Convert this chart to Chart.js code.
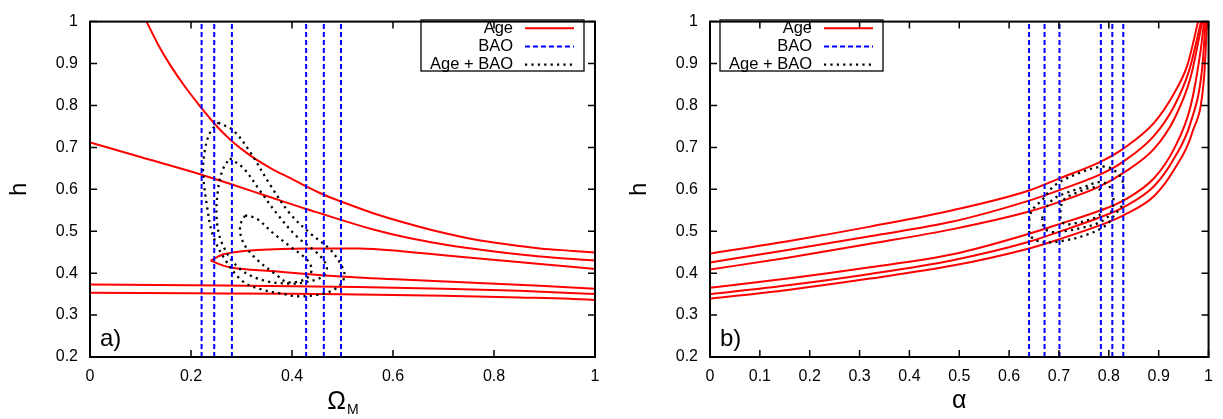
<!DOCTYPE html>
<html><head><meta charset="utf-8">
<script src="https://cdn.jsdelivr.net/npm/chart.js@4.4.1/dist/chart.umd.min.js"></script>
<style>
html,body{margin:0;padding:0;background:#fff;}
#wrap{position:relative;width:1223px;height:419px;overflow:hidden;background:#fff;}
canvas{position:absolute;top:0;}
#cL{left:0;} #cR{left:611px;}
</style></head><body>
<div id="wrap"><canvas id="cL" width="611" height="419"></canvas><canvas id="cR" width="612" height="419"></canvas></div>
<script>
// ---------- axis / tick settings ----------
const Y_MIN = 0.2, Y_MAX = 1.0;
const X_MIN = 0, X_MAX = 1;
const LEGEND_LABELS = ['Age', 'BAO', 'Age + BAO'];

// ---------- panel a) : Omega_M vs h ----------
// Age constraints (red)
const omA1 = [0.112,0.135,0.158,0.185,0.218,0.246,0.28,0.317,0.36,0.396,0.428,0.463,0.497,0.561,0.627,0.693,0.759,0.825,0.891,0.957,1.0];
const hA1  = [1.0,0.945,0.898,0.85,0.798,0.757,0.716,0.681,0.649,0.627,0.607,0.587,0.571,0.543,0.519,0.498,0.481,0.469,0.459,0.453,0.449];
const omA2 = [0,0.1,0.218,0.246,0.28,0.35,0.428,0.463,0.497,0.561,0.627,0.693,0.759,0.825,0.891,1.0];
const hA2  = [0.712,0.677,0.636,0.625,0.612,0.584,0.553,0.540,0.527,0.504,0.485,0.470,0.458,0.448,0.440,0.430];
const omB1 = [0.239,0.264,0.282,0.33,0.428,0.533,0.627,0.759,0.891,1.0];
const hB1  = [0.430,0.445,0.449,0.455,0.459,0.459,0.451,0.436,0.422,0.410];
const omB2 = [0.239,0.264,0.282,0.361,0.428,0.497,0.627,0.759,0.891,1.0];
const hB2  = [0.430,0.418,0.413,0.405,0.398,0.392,0.384,0.377,0.370,0.363];
const omC1 = [0,0.2,0.4,0.53,0.7,0.85,1.0];
const hC1  = [0.373,0.371,0.369,0.367,0.363,0.358,0.350];
const omC2 = [0,0.2,0.4,0.53,0.7,0.85,0.95,1.0];
const hC2  = [0.353,0.352,0.351,0.349,0.346,0.342,0.339,0.336];
// BAO constraints (blue vertical lines)
const baoL = [0.221,0.246,0.281,0.428,0.463,0.497];
// Age + BAO joint contours (black dotted)
const omD3 = [0.254,0.284,0.317,0.356,0.396,0.436,0.475,0.498,0.504,0.495,0.475,0.449,0.409,0.376,0.343,0.304,0.271,0.244,0.231,0.224,0.228,0.238,0.254];
const hD3  = [0.759,0.740,0.689,0.612,0.542,0.495,0.457,0.418,0.394,0.371,0.356,0.348,0.345,0.352,0.360,0.379,0.426,0.488,0.565,0.643,0.697,0.736,0.759];
const omD2 = [0.277,0.304,0.337,0.370,0.409,0.449,0.465,0.469,0.459,0.429,0.396,0.343,0.297,0.264,0.251,0.254,0.264,0.277];
const hD2  = [0.674,0.650,0.596,0.542,0.488,0.449,0.426,0.410,0.391,0.379,0.375,0.383,0.410,0.464,0.526,0.604,0.650,0.674];
const omD1 = [0.307,0.330,0.363,0.396,0.429,0.439,0.432,0.416,0.389,0.370,0.330,0.304,0.297,0.307];
const hD1  = [0.538,0.530,0.495,0.464,0.433,0.410,0.391,0.381,0.379,0.395,0.433,0.472,0.511,0.538];

// ---------- panel b) : alpha vs h ----------
const alR1 = [0,0.156,0.321,0.487,0.64,0.701,0.784,0.829,0.891,0.931,0.958,0.979];
const hR1  = [0.4465,0.476,0.511,0.550,0.597,0.626,0.666,0.697,0.759,0.829,0.898,1.0];
const alR2 = [0,0.156,0.321,0.487,0.64,0.701,0.784,0.829,0.891,0.931,0.961,0.985];
const hR2  = [0.4256,0.455,0.488,0.523,0.573,0.598,0.636,0.666,0.728,0.798,0.883,1.0];
const alR3 = [0,0.156,0.321,0.487,0.64,0.701,0.784,0.829,0.891,0.931,0.964,0.9875];
const hR3  = [0.4086,0.437,0.470,0.505,0.547,0.570,0.608,0.639,0.697,0.767,0.867,1.0];
const alR4 = [0,0.156,0.321,0.487,0.64,0.701,0.784,0.829,0.891,0.931,0.964,0.984,0.991];
const hR4  = [0.365,0.387,0.414,0.445,0.494,0.517,0.550,0.573,0.627,0.697,0.798,0.930,1.0];
const alR5 = [0,0.156,0.321,0.487,0.64,0.701,0.784,0.829,0.891,0.931,0.964,0.9874,0.994];
const hR5  = [0.3496,0.371,0.398,0.431,0.475,0.499,0.534,0.557,0.608,0.674,0.759,0.891,1.0];
const alR6 = [0,0.156,0.321,0.487,0.64,0.701,0.784,0.829,0.891,0.931,0.9675,0.991,0.997];
const hR6  = [0.339,0.360,0.387,0.418,0.459,0.481,0.515,0.538,0.584,0.647,0.736,0.867,1.0];
const baoR = [0.640,0.671,0.701,0.784,0.807,0.829];
const alE3 = [0.640,0.646,0.669,0.692,0.739,0.784,0.806,0.826,0.829,0.826,0.812,0.795,0.759,0.712,0.666,0.643,0.640];
const hE3  = [0.526,0.550,0.578,0.610,0.638,0.654,0.649,0.625,0.590,0.561,0.540,0.515,0.493,0.478,0.474,0.489,0.526];
const alE2 = [0.666,0.673,0.689,0.716,0.749,0.779,0.797,0.807,0.809,0.801,0.779,0.749,0.716,0.686,0.671,0.666];
const hE2  = [0.530,0.553,0.577,0.592,0.605,0.617,0.612,0.592,0.565,0.538,0.520,0.509,0.501,0.498,0.507,0.530];
const alE1 = [0.703,0.704,0.712,0.736,0.765,0.781,0.784,0.782,0.762,0.736,0.712,0.703];
const hE1  = [0.530,0.560,0.578,0.592,0.604,0.600,0.573,0.540,0.528,0.520,0.517,0.530];

// ---------- helpers ----------
const FONT = "'Liberation Sans', Arial, Helvetica, sans-serif";
function xy(xs, ys){ return xs.map((v,i)=>({x:v, y:ys[i]})); }
function redDs(xs, ys){ return {label:'Age', data:xy(xs,ys), borderColor:'#ff0000', borderWidth:2, pointRadius:0, cubicInterpolationMode:'monotone', fill:false}; }
function blueDs(v){ return {label:'BAO', data:[{x:v,y:Y_MIN},{x:v,y:Y_MAX}], borderColor:'#0000ff', borderWidth:2, borderDash:[5,3], pointRadius:0, fill:false}; }
function dotDs(xs, ys){ return {label:'Age + BAO', data:xy(xs,ys), borderColor:'#000000', borderWidth:2.3, borderDash:[2.2,4.2], pointRadius:0, tension:0.35, fill:false}; }

const fmt = v => String(Number(Number(v).toFixed(2)));

const framePlugin = {
  id:'frameTicks',
  afterDatasetsDraw(chart){
    const {ctx, chartArea:a, scales:{x, y}} = chart;
    ctx.save();
    ctx.strokeStyle = '#000'; ctx.lineWidth = 1.5; ctx.setLineDash([]);
    ctx.beginPath();
    x.ticks.forEach(t => { const p = x.getPixelForValue(t.value);
      ctx.moveTo(p, a.bottom); ctx.lineTo(p, a.bottom-7);
      ctx.moveTo(p, a.top); ctx.lineTo(p, a.top+7); });
    y.ticks.forEach(t => { const p = y.getPixelForValue(t.value);
      ctx.moveTo(a.left, p); ctx.lineTo(a.left+7, p);
      ctx.moveTo(a.right, p); ctx.lineTo(a.right-7, p); });
    ctx.stroke();
    ctx.lineWidth = 2;
    ctx.strokeRect(a.left, a.top, a.right-a.left, a.bottom-a.top);
    ctx.restore();
  }
};

function legendPlugin(side){
  return { id:'boxLegend', afterDraw(chart){
    const ctx = chart.ctx, a = chart.chartArea;
    const bw = 163, bh = 51;
    const bx = side === 'right' ? a.right - 11 - bw : a.left + 10;
    const by = 20;
    ctx.save();
    ctx.setLineDash([]); ctx.lineWidth = 1.3; ctx.strokeStyle = '#000';
    ctx.strokeRect(bx, by, bw, bh);
    ctx.font = '16.5px ' + FONT; ctx.textAlign = 'right'; ctx.textBaseline = 'middle'; ctx.fillStyle = '#000';
    LEGEND_LABELS.forEach((lab, i) => {
      const d = chart.data.datasets.find(ds => ds.label === lab);
      const ry = by + 8.3 + i*18.2;
      ctx.fillText(lab, bx + 92, ry);
      ctx.beginPath(); ctx.setLineDash(d.borderDash || []);
      ctx.strokeStyle = d.borderColor; ctx.lineWidth = d.borderWidth;
      ctx.moveTo(bx + 104, ry); ctx.lineTo(bx + 153, ry); ctx.stroke();
    });
    ctx.restore();
  }};
}

function decoPlugin(cfg){
  return { id:'deco', afterDraw(chart){
    const ctx = chart.ctx, a = chart.chartArea;
    ctx.save(); ctx.fillStyle = '#000';
    // y title
    ctx.save();
    ctx.translate(a.left - 71, (a.top + a.bottom)/2);
    ctx.rotate(-Math.PI/2);
    ctx.font = '24px ' + FONT; ctx.textAlign = 'center'; ctx.textBaseline = 'middle';
    ctx.fillText('h', 0, 0);
    ctx.restore();
    // x title
    const cx = (a.left + a.right)/2;
    ctx.textBaseline = 'alphabetic';
    if (cfg.sub){
      ctx.font = '25px ' + FONT;
      const w1 = ctx.measureText(cfg.xtitle).width;
      ctx.font = '14px ' + FONT;
      const w2 = ctx.measureText(cfg.sub).width;
      const x0 = cx - (w1 + w2)/2;
      ctx.textAlign = 'left';
      ctx.font = '25px ' + FONT; ctx.fillText(cfg.xtitle, x0, 409);
      ctx.font = '14px ' + FONT; ctx.fillText(cfg.sub, x0 + w1 + 1, 414);
    } else {
      ctx.font = '25px ' + FONT; ctx.textAlign = 'center';
      ctx.fillText(cfg.xtitle, cx, 408);
    }
    // panel label
    ctx.font = '24px ' + FONT; ctx.textAlign = 'left';
    ctx.fillText(cfg.panel, a.left + 10, a.bottom - 11);
    ctx.restore();
  }};
}

function makeChart(canvasId, datasets, step, yWidth, padRight, deco, legendSide){
  return new Chart(document.getElementById(canvasId), {
    type:'line',
    data:{ datasets },
    options:{
      responsive:false, animation:false, devicePixelRatio:1,
      layout:{ padding:{ top:13, right:padRight, left:0, bottom:0 } },
      plugins:{ legend:{display:false}, tooltip:{enabled:false} },
      elements:{ line:{ borderCapStyle:'butt' } },
      scales:{
        x:{ type:'linear', min:X_MIN, max:X_MAX,
            grid:{display:false, drawTicks:false}, border:{display:false},
            ticks:{ stepSize:step, padding:10, color:'#000', font:{family:FONT, size:16}, maxRotation:0, autoSkip:false, callback:fmt },
            afterFit(s){ s.height = 62; } },
        y:{ type:'linear', min:Y_MIN, max:Y_MAX,
            grid:{display:false, drawTicks:false}, border:{display:false},
            ticks:{ stepSize:0.1, padding:12, color:'#000', font:{family:FONT, size:16}, autoSkip:false, callback:fmt },
            afterFit(s){ s.width = yWidth; } }
      }
    },
    plugins:[framePlugin, decoPlugin(deco), legendPlugin(legendSide)]
  });
}

// ---------- build panel a ----------
const dsL = [];
baoL.forEach(v => dsL.push(blueDs(v)));
dsL.push(dotDs(omD1,hD1), dotDs(omD2,hD2), dotDs(omD3,hD3));
dsL.push(redDs(omA1,hA1), redDs(omA2,hA2), redDs(omB1,hB1), redDs(omB2,hB2), redDs(omC1,hC1), redDs(omC2,hC2));
makeChart('cL', dsL, 0.2, 90, 16, {xtitle:'Ω', sub:'M', panel:'a)'}, 'right');

// ---------- build panel b ----------
const dsR = [];
baoR.forEach(v => dsR.push(blueDs(v)));
dsR.push(dotDs(alE1,hE1), dotDs(alE2,hE2), dotDs(alE3,hE3));
dsR.push(redDs(alR1,hR1), redDs(alR2,hR2), redDs(alR3,hR3), redDs(alR4,hR4), redDs(alR5,hR5), redDs(alR6,hR6));
makeChart('cR', dsR, 0.1, 99, 10, {xtitle:'α', sub:'', panel:'b)'}, 'left');
</script>
</body></html>
